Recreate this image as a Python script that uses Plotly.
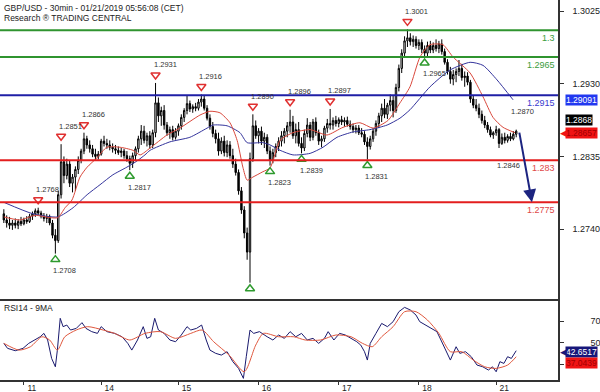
import plotly.graph_objects as go

# ---------------- data ----------------
bar_open = [
    1.2760, 1.2752, 1.2748, 1.2745, 1.2748, 1.2745, 1.2750, 1.2747, 1.2752, 1.2750,
    1.2757, 1.2760, 1.2764, 1.2761, 1.2757, 1.2754, 1.2756, 1.2748, 1.2732, 1.2725,
    1.2785, 1.2828, 1.2810, 1.2825, 1.2800, 1.2808, 1.2818, 1.2830, 1.2842, 1.2858,
    1.2850, 1.2845, 1.2838, 1.2835, 1.2838, 1.2855, 1.2852, 1.2850, 1.2847, 1.2845,
    1.2843, 1.2840, 1.2842, 1.2836, 1.2832, 1.2826, 1.2836, 1.2845, 1.2858, 1.2868,
    1.2856, 1.2862, 1.2850, 1.2866, 1.2905, 1.2888, 1.2895, 1.2876, 1.2866, 1.2870,
    1.2860, 1.2868, 1.2875, 1.2886, 1.2895, 1.2904, 1.2897, 1.2900, 1.2898, 1.2906,
    1.2910, 1.2898, 1.2885, 1.2874, 1.2865, 1.2858, 1.2842, 1.2855, 1.2840, 1.2850,
    1.2836, 1.2825, 1.2814, 1.2790, 1.2765, 1.2735, 1.2710, 1.2832, 1.2875, 1.2862,
    1.2868, 1.2855, 1.2860, 1.2842, 1.2830, 1.2840, 1.2848, 1.2855, 1.2862, 1.2868,
    1.2875, 1.2880, 1.2862, 1.2870, 1.2852, 1.2846, 1.2865, 1.2876, 1.2860, 1.2880,
    1.2866, 1.2855, 1.2858, 1.2872, 1.2878, 1.2876, 1.2882, 1.2878, 1.2883, 1.2880,
    1.2882, 1.2877, 1.2874, 1.2870, 1.2872, 1.2866, 1.2864, 1.2854, 1.2848, 1.2858,
    1.2868, 1.2878, 1.2888, 1.2898, 1.2890, 1.2902, 1.2908, 1.2895, 1.2925, 1.2950,
    1.2970, 1.2986, 1.2990, 1.2985, 1.2988, 1.2980, 1.2984, 1.2975, 1.2970, 1.2980,
    1.2974, 1.2980, 1.2976, 1.2982, 1.2972, 1.2958, 1.2946, 1.2936, 1.2942, 1.2946,
    1.2950, 1.2938, 1.2940, 1.2932, 1.2910, 1.2902, 1.2898, 1.2890, 1.2882, 1.2876,
    1.2870, 1.2863, 1.2866, 1.2870, 1.2852, 1.2860, 1.2856, 1.2861, 1.2858, 1.2864,
]
bar_high = [
    1.2766, 1.2758, 1.2756, 1.2752, 1.2754, 1.2753, 1.2756, 1.2755, 1.2757, 1.2760,
    1.2763, 1.2767, 1.2768, 1.2764, 1.2761, 1.2760, 1.2759, 1.2752, 1.2740, 1.2790,
    1.2851, 1.2835, 1.2832, 1.2830, 1.2812, 1.2822, 1.2835, 1.2845, 1.2866, 1.2862,
    1.2856, 1.2850, 1.2845, 1.2842, 1.2858, 1.2862, 1.2858, 1.2856, 1.2852, 1.2850,
    1.2848, 1.2846, 1.2845, 1.2842, 1.2836, 1.2840, 1.2848, 1.2862, 1.2876, 1.2875,
    1.2866, 1.2868, 1.2870, 1.2931, 1.2912, 1.2900, 1.2902, 1.2880, 1.2874, 1.2875,
    1.2872, 1.2878, 1.2890, 1.2898, 1.2914, 1.2908, 1.2903, 1.2905, 1.2910, 1.2916,
    1.2914, 1.2902, 1.2890, 1.2880, 1.2870, 1.2866, 1.2860, 1.2862, 1.2856, 1.2855,
    1.2845, 1.2832, 1.2818, 1.2795, 1.2770, 1.2742, 1.2840, 1.2890, 1.2882, 1.2872,
    1.2874, 1.2866, 1.2864, 1.2848, 1.2845, 1.2852, 1.2860, 1.2868, 1.2872, 1.2880,
    1.2896, 1.2888, 1.2878, 1.2880, 1.2860, 1.2870, 1.2885, 1.2880, 1.2884, 1.2886,
    1.2870, 1.2862, 1.2875, 1.2884, 1.2897, 1.2886, 1.2888, 1.2886, 1.2888, 1.2886,
    1.2887, 1.2882, 1.2878, 1.2876, 1.2876, 1.2872, 1.2868, 1.2860, 1.2862, 1.2872,
    1.2882, 1.2892, 1.2904, 1.2910, 1.2905, 1.2916, 1.2914, 1.2930, 1.2955, 1.2975,
    1.2992, 1.3001, 1.2996, 1.2993, 1.2992, 1.2988, 1.2988, 1.2980, 1.2985, 1.2986,
    1.2984, 1.2988, 1.2986, 1.2988, 1.2976, 1.2962, 1.2952, 1.2948, 1.2950, 1.2961,
    1.2956, 1.2946, 1.2945, 1.2935, 1.2915, 1.2910, 1.2904, 1.2895, 1.2888, 1.2880,
    1.2874, 1.2868, 1.2875, 1.2872, 1.2865, 1.2866, 1.2864, 1.2866, 1.2868, 1.2870,
]
bar_low = [
    1.2748, 1.2742, 1.2740, 1.2739, 1.2741, 1.2740, 1.2744, 1.2745, 1.2747, 1.2748,
    1.2752, 1.2756, 1.2758, 1.2754, 1.2750, 1.2748, 1.2745, 1.2728, 1.2708, 1.2722,
    1.2780, 1.2800, 1.2805, 1.2795, 1.2788, 1.2790, 1.2812, 1.2826, 1.2838, 1.2845,
    1.2840, 1.2834, 1.2830, 1.2831, 1.2836, 1.2848, 1.2845, 1.2843, 1.2840, 1.2838,
    1.2837, 1.2834, 1.2832, 1.2828, 1.2817, 1.2820, 1.2830, 1.2840, 1.2850, 1.2852,
    1.2848, 1.2845, 1.2846, 1.2860, 1.2880, 1.2875, 1.2870, 1.2862, 1.2858, 1.2856,
    1.2857, 1.2862, 1.2870, 1.2880, 1.2890, 1.2893, 1.2892, 1.2894, 1.2895, 1.2900,
    1.2895, 1.2882, 1.2870, 1.2860, 1.2852, 1.2836, 1.2838, 1.2835, 1.2834, 1.2832,
    1.2820, 1.2810, 1.2785, 1.2760, 1.2728, 1.2700, 1.2670, 1.2828, 1.2858, 1.2852,
    1.2850, 1.2846, 1.2838, 1.2823, 1.2826, 1.2834, 1.2842, 1.2848, 1.2852, 1.2860,
    1.2866, 1.2858, 1.2852, 1.2848, 1.2839, 1.2842, 1.2860, 1.2855, 1.2856, 1.2862,
    1.2850, 1.2847, 1.2854, 1.2866, 1.2870, 1.2870, 1.2874, 1.2873, 1.2876, 1.2874,
    1.2874, 1.2870, 1.2866, 1.2865, 1.2863, 1.2860, 1.2850, 1.2831, 1.2844, 1.2854,
    1.2862, 1.2872, 1.2880, 1.2885, 1.2884, 1.2894, 1.2886, 1.2892, 1.2920, 1.2944,
    1.2965, 1.2978, 1.2980, 1.2978, 1.2976, 1.2974, 1.2970, 1.2965, 1.2966, 1.2970,
    1.2970, 1.2972, 1.2970, 1.2968, 1.2955, 1.2942, 1.2930, 1.2928, 1.2932, 1.2940,
    1.2934, 1.2926, 1.2928, 1.2905, 1.2898, 1.2894, 1.2885, 1.2878, 1.2872, 1.2866,
    1.2860, 1.2858, 1.2862, 1.2846, 1.2850, 1.2852, 1.2853, 1.2855, 1.2856, 1.2860,
]
bar_close = [
    1.2752, 1.2748, 1.2745, 1.2748, 1.2745, 1.2750, 1.2747, 1.2752, 1.2750, 1.2757,
    1.2760, 1.2764, 1.2761, 1.2757, 1.2754, 1.2756, 1.2748, 1.2732, 1.2725, 1.2785,
    1.2828, 1.2810, 1.2825, 1.2800, 1.2808, 1.2818, 1.2830, 1.2842, 1.2858, 1.2850,
    1.2845, 1.2838, 1.2835, 1.2838, 1.2855, 1.2852, 1.2850, 1.2847, 1.2845, 1.2843,
    1.2840, 1.2842, 1.2836, 1.2832, 1.2826, 1.2836, 1.2845, 1.2858, 1.2868, 1.2856,
    1.2862, 1.2850, 1.2866, 1.2905, 1.2888, 1.2895, 1.2876, 1.2866, 1.2870, 1.2860,
    1.2868, 1.2875, 1.2886, 1.2895, 1.2904, 1.2897, 1.2900, 1.2898, 1.2906, 1.2910,
    1.2898, 1.2885, 1.2874, 1.2865, 1.2858, 1.2842, 1.2855, 1.2840, 1.2850, 1.2836,
    1.2825, 1.2814, 1.2790, 1.2765, 1.2735, 1.2710, 1.2832, 1.2875, 1.2862, 1.2868,
    1.2855, 1.2860, 1.2842, 1.2830, 1.2840, 1.2848, 1.2855, 1.2862, 1.2868, 1.2875,
    1.2880, 1.2862, 1.2870, 1.2852, 1.2846, 1.2865, 1.2876, 1.2860, 1.2880, 1.2866,
    1.2855, 1.2858, 1.2872, 1.2878, 1.2876, 1.2882, 1.2878, 1.2883, 1.2880, 1.2882,
    1.2877, 1.2874, 1.2870, 1.2872, 1.2866, 1.2864, 1.2854, 1.2848, 1.2858, 1.2868,
    1.2878, 1.2888, 1.2898, 1.2890, 1.2902, 1.2908, 1.2895, 1.2925, 1.2950, 1.2970,
    1.2986, 1.2990, 1.2985, 1.2988, 1.2980, 1.2984, 1.2975, 1.2970, 1.2980, 1.2974,
    1.2980, 1.2976, 1.2982, 1.2972, 1.2958, 1.2946, 1.2936, 1.2942, 1.2946, 1.2950,
    1.2938, 1.2940, 1.2932, 1.2910, 1.2902, 1.2898, 1.2890, 1.2882, 1.2876, 1.2870,
    1.2863, 1.2866, 1.2870, 1.2852, 1.2860, 1.2856, 1.2861, 1.2858, 1.2864, 1.2868,
]
bar_idx = list(range(len(bar_close)))

day_tick_idx = [7, 34, 61, 89, 117, 145, 172]
day_tick_text = ["11", "14", "15", "16", "17", "18", "21"]

ma_fast_idx = [0, 5.6, 10.9, 16.1, 18.9, 21.4, 23.8, 26.6, 29.1, 32.5, 36.0, 40.6, 45.1, 47.6, 51.1,
               57.0, 61.5, 68.5, 72.0, 75.5, 79.0, 81.5, 83.5, 85.0, 87.0, 90.5, 93.0, 96.5, 101.0,
               107.0, 112.9, 118.5, 124.4, 129.0, 134.2, 138.4, 141.9, 145.4, 148.9, 153.4, 156.9,
               162.9, 167.4, 170.9, 174.4, 178.6]
ma_fast_val = [1.2756, 1.2752, 1.2758, 1.2755, 1.2755, 1.2768, 1.2778, 1.2808, 1.2821, 1.2833,
               1.2847, 1.2847, 1.2843, 1.2837, 1.2846, 1.2863, 1.2872, 1.2889, 1.2894, 1.2892,
               1.2879, 1.2856, 1.2821, 1.2804, 1.2808, 1.2815, 1.2820, 1.2856, 1.2866, 1.2870,
               1.2863, 1.2873, 1.2879, 1.2872, 1.2882, 1.2905, 1.2926, 1.2965, 1.2981, 1.2981,
               1.2965, 1.2944, 1.2913, 1.2886, 1.2873, 1.2866]
ma_slow_idx = [0, 10.2, 18.9, 24.2, 29.1, 33.6, 38.1, 43.0, 46.5, 49.3, 51.1, 58.0, 65.0, 71.0,
               73.1, 78.0, 82.5, 85.0, 90.5, 93.0, 96.5, 101.0, 107.0, 111.5, 116.4, 122.0, 127.9,
               133.9, 138.4, 141.9, 148.9, 155.9, 162.9, 167.4, 172.3, 177.9]
ma_slow_val = [1.2775, 1.2760, 1.2756, 1.2768, 1.2785, 1.2798, 1.2811, 1.2821, 1.2829, 1.2837,
               1.2843, 1.2854, 1.2860, 1.2872, 1.2876, 1.2875, 1.2866, 1.2853, 1.2853, 1.2850,
               1.2843, 1.2837, 1.2839, 1.2847, 1.2860, 1.2867, 1.2870, 1.2876, 1.2885, 1.2896,
               1.2926, 1.2948, 1.2958, 1.2954, 1.2935, 1.2909]

level_values = [1.3, 1.2965, 1.2915, 1.283, 1.2775]
level_text = ["1.3", "1.2965", "1.2915", "1.283", "1.2775"]
level_kind = ["resistance", "resistance", "pivot", "support", "support"]

swing_high_idx = [12, 20, 28, 53, 69, 87, 100, 114, 141, 178]
swing_high_val = [1.2768, 1.2851, 1.2866, 1.2931, 1.2916, 1.2890, 1.2896, 1.2897, 1.3001, 1.2870]
swing_high_text = ["1.2768", "1.2851", "1.2866", "1.2931", "1.2916", "1.2890", "1.2896", "1.2897", "1.3001", "1.2870"]
swing_high_mark = [True, True, True, True, True, True, True, True, True, False]

swing_low_idx = [18, 44, 86, 93, 104, 127, 147, 173]
swing_low_val = [1.2708, 1.2817, 1.2670, 1.2823, 1.2839, 1.2831, 1.2965, 1.2846]
swing_low_text = ["1.2708", "1.2817", "", "1.2823", "1.2839", "1.2831", "1.2965", "1.2846"]
swing_low_mark = [True, True, True, True, True, True, True, False]

rsi_idx = [0.0, 1.3, 4.0, 6.7, 8.7, 10.7, 12.7, 14.0, 15.3, 16.7, 18.0, 18.7, 19.7, 20.7, 22.0,
           23.3, 25.3, 27.3, 28.7, 30.7, 32.7, 34.0, 36.0, 38.7, 41.3, 43.3, 44.7, 46.7, 48.7,
           50.0, 51.3, 52.7, 54.0, 56.0, 58.0, 60.0, 62.0, 64.0, 65.3, 67.3, 69.1, 70.7, 72.0,
           74.0, 76.0, 78.0, 80.0, 82.0, 83.7, 84.7, 86.0, 87.3, 89.3, 92.0, 94.0, 96.0, 98.0,
           100.0, 102.0, 104.0, 106.0, 108.0, 110.0, 112.0, 113.3, 115.3, 117.3, 119.3, 121.3,
           123.3, 124.7, 126.0, 127.0, 128.0, 130.0, 132.0, 134.0, 136.0, 138.0, 140.0, 142.0,
           144.0, 145.3, 147.3, 149.3, 151.3, 152.7, 154.0, 156.0, 158.0, 159.3, 161.3, 163.3,
           165.3, 167.3, 169.3, 170.7, 172.0, 173.3, 174.7, 176.0, 177.3, 179.0]
rsi_val = [49.4, 44.8, 42.6, 44.8, 49.4, 52.5, 55.5, 58.6, 52.5, 35.5, 27.8, 43.2, 72.5, 64.8, 66.3,
           61.7, 63.2, 68.5, 63.2, 60.2, 58.6, 64.8, 60.2, 58.6, 55.5, 49.4, 43.2, 52.5, 64.8,
           54.0, 55.5, 72.5, 61.7, 58.6, 52.5, 50.9, 57.1, 64.8, 61.7, 63.2, 66.3, 52.5, 43.2,
           40.2, 38.6, 41.7, 32.5, 26.3, 17.1, 37.1, 61.7, 58.6, 60.2, 55.5, 52.5, 57.1, 54.0,
           60.2, 55.5, 58.6, 52.5, 54.0, 49.4, 54.0, 60.2, 52.5, 58.6, 57.1, 54.0,
           50.9, 47.8, 41.7, 34.0, 49.4, 58.6, 67.8, 64.8, 69.4, 78.6, 82.6, 80.2,
           75.5, 69.4, 66.3, 63.2, 60.2, 52.5, 44.8, 34.0, 46.3, 40.2, 41.7, 37.1,
           29.4, 27.8, 24.8, 27.8, 23.2, 32.5, 30.9, 37.1, 35.5, 42.65]
rsi_ma_idx = [0.0, 5.3, 9.3, 13.3, 16.0, 18.7, 21.3, 25.3, 29.3, 34.7, 38.7, 44.0, 49.3, 54.7, 60.0,
              65.3, 69.3, 73.3, 78.7, 84.0, 88.0, 90.7, 96.0, 101.3, 105.3, 110.7, 116.0, 121.3,
              125.3, 128.7, 132.0, 136.0, 140.0, 144.0, 148.0, 152.0, 156.0, 160.0, 164.0, 168.0,
              172.0, 176.0, 179.0]
rsi_ma_val = [49.4, 43.2, 46.3, 55.5, 52.5, 43.2, 55.5, 61.7, 64.8, 61.7, 58.6, 52.5, 58.6, 60.2,
              54.0, 58.6, 61.7, 50.9, 38.6, 23.2, 47.8, 58.6, 55.5, 55.5, 52.5, 52.5, 57.1, 55.5,
              49.4, 46.3, 55.5, 64.8, 78.6, 78.6, 70.9, 58.6, 41.7, 41.7, 34.0, 27.8, 26.3, 29.4, 37.04]

price_ticks = [1.3025, 1.2930, 1.2835, 1.2740]
price_tick_text = ["1.3025", "1.2930", "1.2835", "1.2740"]
rsi_ticks = [70, 50, 30]
rsi_tick_text = ["70", "50", ""]   # the 30 label sits hidden behind the red value box

last_price = 1.2868
ma_slow_last = 1.29091
ma_fast_last = 1.28657
rsi_last = 42.6517
rsi_ma_last = 37.0439

forecast_idx = [180, 184.5]
forecast_val = [1.2868, 1.2775]

title_line1 = "GBP/USD - 30min - 01/21/2019 05:56:08 (CET)"
title_line2 = "Research \u00ae TRADING CENTRAL"
rsi_title = "RSI14 - 9MA"

# ---------------- styling / layout constants ----------------
FONT = "Liberation Sans, Arial, sans-serif"
TXT = "#222222"
W, H = 600, 392
M_L, M_R, M_T, M_B = 0, 42, 0, 12
PLOT_H = H - M_T - M_B
MAIN_PX = 299
RSI_TOP_PX = 300
X_RANGE = [-1.34, 193.6]
Y_RANGE = [1.26487, 1.30394]
RSI_RANGE = [15.6, 89.4]
PPP = (Y_RANGE[1] - Y_RANGE[0]) / MAIN_PX  # price per pixel

level_style = {
    "resistance": ("#2f942f", "#3c9c3c"),
    "pivot": ("#1f1fa6", "#3a3ad0"),
    "support": ("#e31e1e", "#e04848"),
}

fig = go.Figure()

fig.add_trace(go.Candlestick(
    x=bar_idx, open=bar_open, high=bar_high, low=bar_low, close=bar_close,
    increasing=dict(line=dict(color="#000000", width=1), fillcolor="#ffffff"),
    decreasing=dict(line=dict(color="#000000", width=1), fillcolor="#000000"),
    whiskerwidth=0, xaxis="x", yaxis="y", hoverinfo="skip", showlegend=False))

fig.add_trace(go.Scatter(x=ma_slow_idx, y=ma_slow_val, mode="lines",
                         line=dict(color="#34349c", width=1, shape="spline", smoothing=0.6),
                         xaxis="x", yaxis="y", hoverinfo="skip"))
fig.add_trace(go.Scatter(x=ma_fast_idx, y=ma_fast_val, mode="lines",
                         line=dict(color="#d9483c", width=1, shape="spline", smoothing=0.6),
                         xaxis="x", yaxis="y", hoverinfo="skip"))

# swing markers
hi_x = [i for i, m in zip(swing_high_idx, swing_high_mark) if m]
hi_y = [v + 8 * PPP for v, m in zip(swing_high_val, swing_high_mark) if m]
lo_x = [i for i, m in zip(swing_low_idx, swing_low_mark) if m]
lo_y = [v - 6 * PPP for v, m in zip(swing_low_val, swing_low_mark) if m]
fig.add_trace(go.Scatter(x=hi_x, y=hi_y, mode="markers", xaxis="x", yaxis="y",
                         marker=dict(symbol="triangle-down-open", size=8, color="#e03030",
                                     line=dict(width=1.5, color="#e03030")), hoverinfo="skip"))
fig.add_trace(go.Scatter(x=lo_x, y=lo_y, mode="markers", xaxis="x", yaxis="y",
                         marker=dict(symbol="triangle-up-open", size=8, color="#2e9a2e",
                                     line=dict(width=1.5, color="#2e9a2e")), hoverinfo="skip"))

# RSI
fig.add_trace(go.Scatter(x=rsi_idx, y=rsi_val, mode="lines", xaxis="x2", yaxis="y2",
                         line=dict(color="#1a1a6e", width=1), hoverinfo="skip"))
fig.add_trace(go.Scatter(x=rsi_ma_idx, y=rsi_ma_val, mode="lines", xaxis="x2", yaxis="y2",
                         line=dict(color="#e0583e", width=1, shape="spline", smoothing=0.7),
                         hoverinfo="skip"))

shapes = []
annotations = []
for v, t, k in zip(level_values, level_text, level_kind):
    lc, tc = level_style[k]
    shapes.append(dict(type="line", xref="paper", yref="y", x0=0, x1=1, y0=v, y1=v,
                       line=dict(color=lc, width=2), layer="above"))
    annotations.append(dict(xref="paper", yref="y", x=1, y=v, xanchor="right", yanchor="top",
                            xshift=-1, yshift=-1, text=t, showarrow=False,
                            font=dict(family=FONT, size=9, color=tc)))

for i, v, t in zip(swing_high_idx, swing_high_val, swing_high_text):
    if t:
        annotations.append(dict(xref="x", yref="y", x=i, y=v, xanchor="left", yanchor="middle",
                                xshift=-4, yshift=18, text=t, showarrow=False,
                                font=dict(family=FONT, size=7.5, color="#333333")))
for i, v, t in zip(swing_low_idx, swing_low_val, swing_low_text):
    if t:
        annotations.append(dict(xref="x", yref="y", x=i, y=v, xanchor="left", yanchor="middle",
                                xshift=-4, yshift=-17, text=t, showarrow=False,
                                font=dict(family=FONT, size=7.5, color="#333333")))

# forecast arrow
annotations.append(dict(xref="x", yref="y", axref="x", ayref="y",
                        x=forecast_idx[1], y=forecast_val[1], ax=forecast_idx[0], ay=forecast_val[0],
                        text="", showarrow=True, arrowhead=2, arrowsize=1.3, arrowwidth=2,
                        arrowcolor="#1c2480"))

# titles
annotations.append(dict(xref="paper", yref="paper", x=0, y=1, xanchor="left", yanchor="top",
                        xshift=2, yshift=-1, text=title_line1, showarrow=False,
                        font=dict(family=FONT, size=8.5, color=TXT)))
annotations.append(dict(xref="paper", yref="paper", x=0, y=1, xanchor="left", yanchor="top",
                        xshift=2, yshift=-11, text=title_line2, showarrow=False,
                        font=dict(family=FONT, size=8.5, color=TXT)))
rsi_dom_top = 1 - RSI_TOP_PX / PLOT_H
annotations.append(dict(xref="paper", yref="paper", x=0, y=rsi_dom_top, xanchor="left", yanchor="top",
                        xshift=2, yshift=-1, text=rsi_title, showarrow=False,
                        font=dict(family=FONT, size=8.5, color=TXT)))


def tag(yref, y, text, bg, fg, yshift=0, arrow=False):
    annotations.append(dict(xref="paper", yref=yref, x=1, y=y, xanchor="left", yanchor="middle",
                            xshift=7, yshift=yshift, text=text, showarrow=False, bgcolor=bg,
                            borderpad=0, font=dict(family=FONT, size=8.5, color=fg)))
    if arrow:
        annotations.append(dict(xref="paper", yref=yref, x=1, y=y, xanchor="left", yanchor="middle",
                                xshift=0, yshift=yshift, text="\u25c0", showarrow=False,
                                font=dict(family="DejaVu Sans", size=9, color=bg)))


tag("y", ma_slow_last, "1.29091", "#2238f0", "#ffffff")
tag("y", last_price, "1.2868", "#000000", "#ffffff", yshift=11)
tag("y", ma_fast_last, "1.28657", "#f01414", "#a00000", arrow=True)
tag("y2", rsi_last, "42.6517", "#17177a", "#ffffff", yshift=-1, arrow=True)
tag("y2", rsi_ma_last, "37.0439", "#f01414", "#a00000", yshift=-6)

axis_common = dict(showgrid=False, zeroline=False, linecolor="#333333", linewidth=1.5,
                   tickcolor="#333333", tickfont=dict(family=FONT, size=9, color=TXT))

fig.update_layout(
    width=W, height=H, margin=dict(l=M_L, r=M_R, t=M_T, b=M_B, autoexpand=False),
    paper_bgcolor="white", plot_bgcolor="white", showlegend=False, hovermode=False,
    xaxis=dict(domain=[0, 1], anchor="y", range=X_RANGE, showticklabels=False, ticks="",
               showline=True, rangeslider=dict(visible=False), **axis_common),
    xaxis2=dict(domain=[0, 1], anchor="y2", range=X_RANGE, tickmode="array",
                tickvals=day_tick_idx, ticktext=day_tick_text, ticks="outside", ticklen=3,
                showline=True, ticklabelshift=8, ticklabelstandoff=-4,
                showgrid=False, zeroline=False, linecolor="#333333", linewidth=1.5,
                tickcolor="#333333", tickfont=dict(family=FONT, size=8.5, color=TXT)),
    yaxis=dict(domain=[1 - MAIN_PX / PLOT_H, 1], anchor="x", side="right", range=Y_RANGE,
               tickmode="array", tickvals=price_ticks, ticktext=price_tick_text,
               ticks="outside", ticklen=4, showline=True, ticklabelstandoff=7, **axis_common),
    yaxis2=dict(domain=[0, rsi_dom_top], anchor="x2", side="right", range=RSI_RANGE,
                tickmode="array", tickvals=rsi_ticks, ticktext=rsi_tick_text,
                ticks="outside", ticklen=4, showline=True, ticklabelstandoff=25, **axis_common),
    shapes=shapes, annotations=annotations,
)

fig.write_html("out.html", config={"displayModeBar": False},
               post_script="document.body.style.margin='0';document.body.style.padding='0';")
